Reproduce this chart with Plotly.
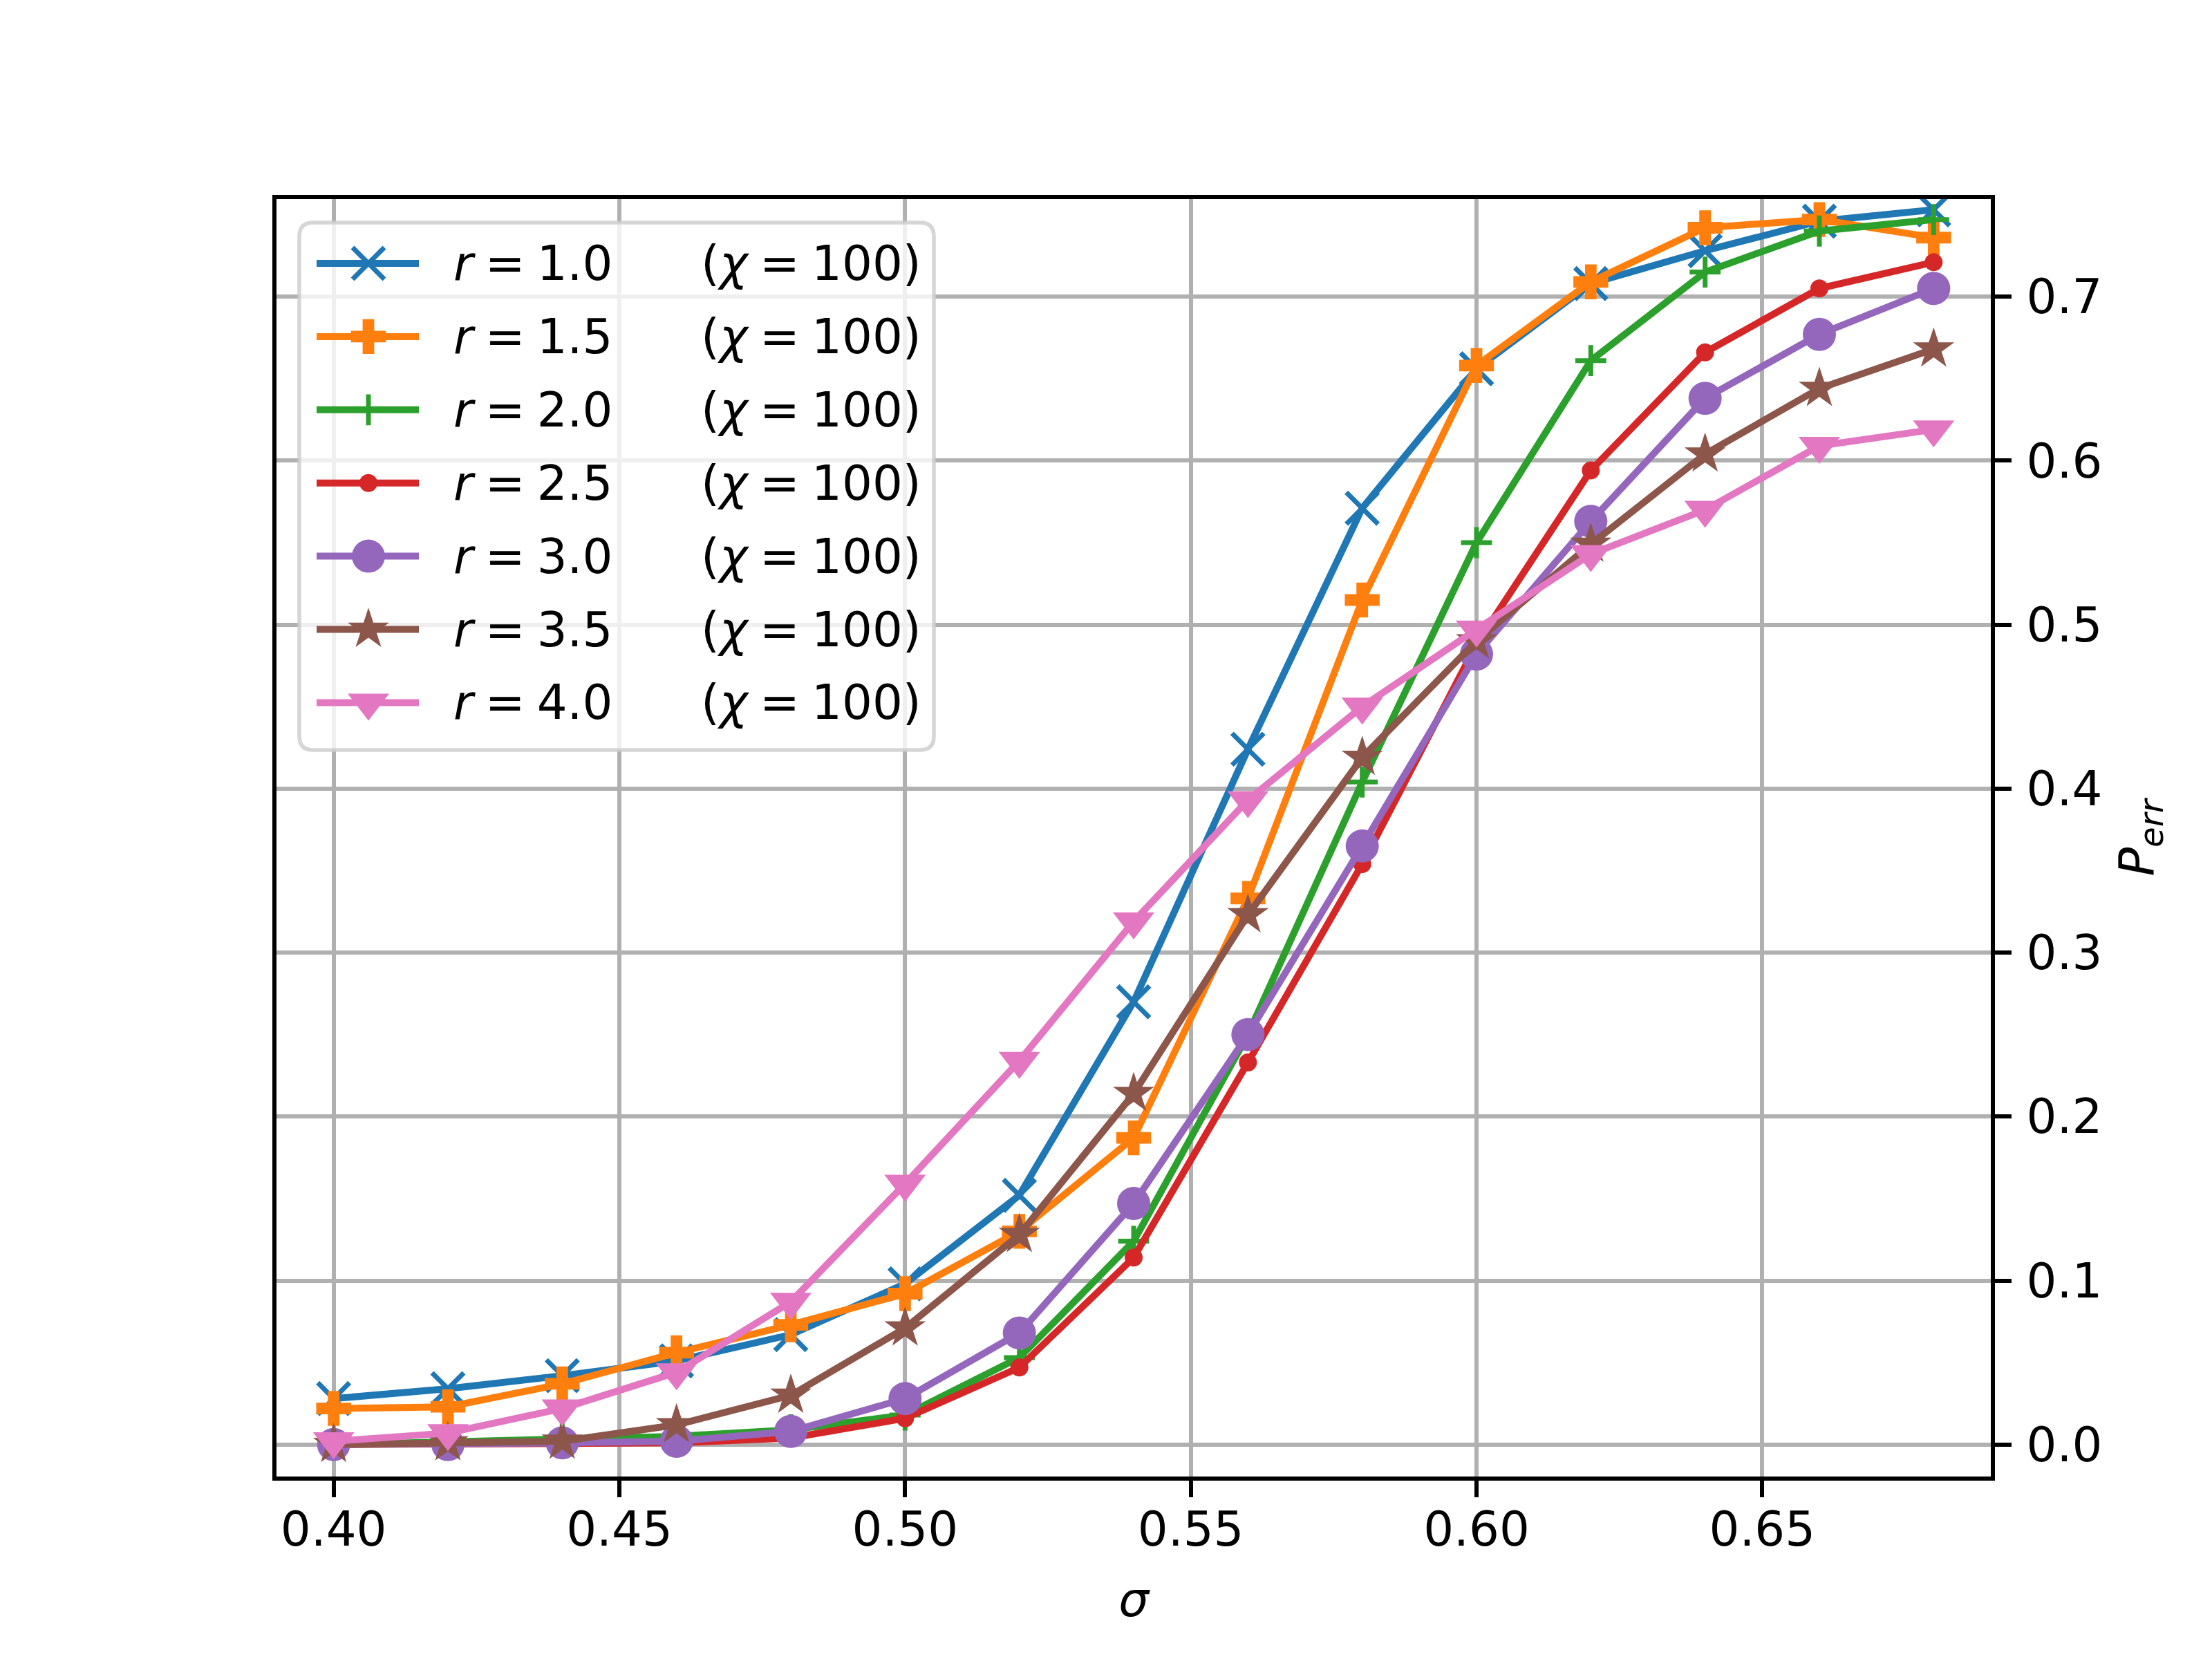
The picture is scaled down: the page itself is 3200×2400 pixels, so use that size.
import plotly.graph_objects as go

sigma = [0.40, 0.42, 0.44, 0.46, 0.48, 0.50, 0.52, 0.54, 0.56, 0.58, 0.60, 0.62, 0.64, 0.66, 0.68]

p_r10 = [0.028, 0.034, 0.042, 0.051, 0.067, 0.098, 0.152, 0.270, 0.424, 0.571, 0.656, 0.708, 0.728, 0.746, 0.753]
p_r15 = [0.022, 0.023, 0.037, 0.056, 0.073, 0.092, 0.130, 0.187, 0.333, 0.515, 0.658, 0.709, 0.742, 0.747, 0.736]
p_r20 = [0.000, 0.002, 0.004, 0.005, 0.009, 0.018, 0.053, 0.124, 0.250, 0.404, 0.550, 0.661, 0.715, 0.740, 0.747]
p_r25 = [0.000, 0.000, 0.001, 0.001, 0.004, 0.016, 0.047, 0.114, 0.233, 0.354, 0.488, 0.594, 0.666, 0.705, 0.721]
p_r30 = [0.000, 0.000, 0.001, 0.002, 0.008, 0.028, 0.068, 0.147, 0.250, 0.365, 0.482, 0.563, 0.638, 0.677, 0.705]
p_r35 = [0.000, 0.001, 0.002, 0.012, 0.030, 0.071, 0.128, 0.214, 0.323, 0.419, 0.490, 0.549, 0.604, 0.644, 0.668]
p_r40 = [0.002, 0.007, 0.022, 0.044, 0.087, 0.159, 0.234, 0.319, 0.393, 0.450, 0.497, 0.543, 0.570, 0.609, 0.619]

r_values = ["1.0", "1.5", "2.0", "2.5", "3.0", "3.5", "4.0"]
chi = "100"
x_ticks = [0.40, 0.45, 0.50, 0.55, 0.60, 0.65]
x_tick_labels = ["0.40", "0.45", "0.50", "0.55", "0.60", "0.65"]
y_ticks = [0.0, 0.1, 0.2, 0.3, 0.4, 0.5, 0.6, 0.7]
y_tick_labels = ["0.0", "0.1", "0.2", "0.3", "0.4", "0.5", "0.6", "0.7"]

series = [p_r10, p_r15, p_r20, p_r25, p_r30, p_r35, p_r40]
colors = ["#1f77b4", "#ff7f0e", "#2ca02c", "#d62728", "#9467bd", "#8c564b", "#e377c2"]
symbols = ["x-thin", "cross", "cross-thin", "circle", "circle", "star", "triangle-down"]
msizes = [46, 42, 32, 26, 48, 45, 52]
mline = [7, 0, 7, 0, 0, 0, 0]

FONT = "DejaVu Sans"
FS = 69
SP = "\u2005"  # narrow space, close to mathtext spacing around '='

# axis ranges and plot-area geometry (screen pixels)
XR = [0.39, 0.69]
YR = [-0.0195, 0.7595]
PL, PT, PW, PH = 400, 288, 2480, 1848
OFF = 8  # page body margin

def px2x(X):
    return XR[0] + (X - PL) / PW * (XR[1] - XR[0])

def py2y(Y):
    return YR[1] - (Y - PT) / PH * (YR[1] - YR[0])

fig = go.Figure()
for i, ys in enumerate(series):
    fig.add_trace(go.Scatter(
        x=sigma, y=ys, mode="lines+markers", name="r = " + r_values[i],
        showlegend=False,
        line=dict(color=colors[i], width=10),
        marker=dict(symbol=symbols[i], size=msizes[i], color=colors[i],
                    line=dict(color=colors[i], width=mline[i])),
    ))

# ---- custom legend (matplotlib style) ----
LEG_L, LEG_T, LEG_R, LEG_B = 433, 322, 1351, 1085
ROW0, PITCH = 381, 105.9
H_X0, H_X1, H_XM = 458, 606, 533
TXT1_X, TXT2_X = 654, 1012
RAD = 20

rx = RAD / PW * (XR[1] - XR[0])
ry = RAD / PH * (YR[1] - YR[0])
x0, x1 = px2x(LEG_L), px2x(LEG_R)
y0, y1 = py2y(LEG_T), py2y(LEG_B)
path = (f"M{x0+rx},{y0} L{x1-rx},{y0} Q{x1},{y0} {x1},{y0-ry} "
        f"L{x1},{y1+ry} Q{x1},{y1} {x1-rx},{y1} L{x0+rx},{y1} Q{x0},{y1} {x0},{y1+ry} "
        f"L{x0},{y0-ry} Q{x0},{y0} {x0+rx},{y0} Z")
fig.add_shape(type="path", path=path, xref="x", yref="y", layer="between",
              fillcolor="rgba(255,255,255,0.8)", line=dict(color="rgba(204,204,204,0.8)", width=5.6))

annotations = []
for i in range(len(series)):
    yy = py2y(ROW0 + i * PITCH)
    fig.add_trace(go.Scatter(
        x=[px2x(H_X0), px2x(H_X1)], y=[yy, yy], mode="lines", showlegend=False,
        hoverinfo="skip", line=dict(color=colors[i], width=10)))
    fig.add_trace(go.Scatter(
        x=[px2x(H_XM)], y=[yy], mode="markers", showlegend=False, hoverinfo="skip",
        marker=dict(symbol=symbols[i], size=msizes[i], color=colors[i],
                    line=dict(color=colors[i], width=mline[i]))))
    annotations.append(dict(x=px2x(TXT1_X), y=yy, xref="x", yref="y", xanchor="left", yanchor="middle",
                            text="<i>r</i>" + SP + "=" + SP + r_values[i], showarrow=False,
                            font=dict(family=FONT, size=FS, color="black")))
    annotations.append(dict(x=px2x(TXT2_X), y=yy, xref="x", yref="y", xanchor="left", yanchor="middle",
                            text="(<i>χ</i>" + SP + "=" + SP + chi + ")", showarrow=False,
                            font=dict(family=FONT, size=FS, color="black")))

fig.update_layout(
    width=3200, height=2400,
    margin=dict(l=PL - OFF, r=3200 - PL - PW + OFF, t=PT - OFF, b=2400 - PT - PH + OFF),
    paper_bgcolor="white", plot_bgcolor="white",
    font=dict(family=FONT, size=FS, color="black"),
    showlegend=False,
    annotations=annotations,
    xaxis=dict(
        range=XR, tickmode="array", tickvals=x_ticks, ticktext=x_tick_labels,
        showgrid=True, gridcolor="#b0b0b0", gridwidth=5.6,
        showline=True, linecolor="black", linewidth=5.6, mirror=True,
        ticks="outside", ticklen=24, tickwidth=5.6, tickcolor="black",
        ticklabelstandoff=-13, zeroline=False,
        title=dict(text="<i>σ</i>", font=dict(family=FONT, size=FS), standoff=41),
    ),
    yaxis=dict(
        range=YR, side="right", tickmode="array", tickvals=y_ticks, ticktext=y_tick_labels,
        showgrid=True, gridcolor="#b0b0b0", gridwidth=5.6,
        showline=True, linecolor="black", linewidth=5.6, mirror=True,
        ticks="outside", ticklen=24, tickwidth=5.6, tickcolor="black",
        ticklabelstandoff=8, zeroline=False,
        title=dict(text="<i>P</i><sub><i>err</i></sub>", font=dict(family=FONT, size=FS), standoff=28),
    ),
)

fig.write_html("out.html")
